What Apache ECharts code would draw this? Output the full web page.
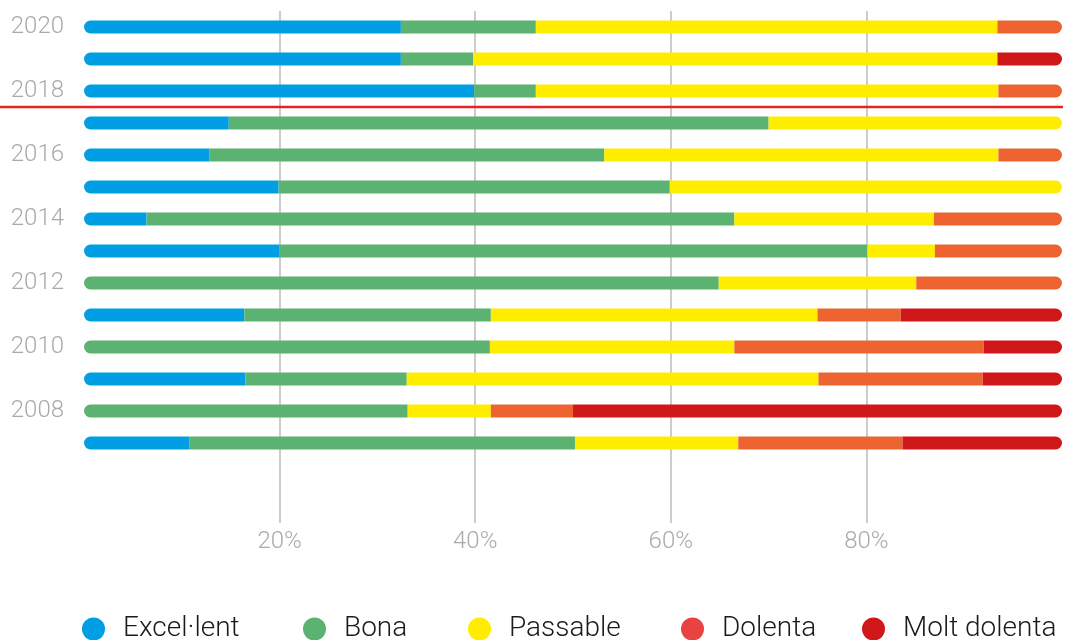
<!DOCTYPE html>
<html>
<head>
<meta charset="utf-8">
<script src="https://cdn.jsdelivr.net/npm/echarts@6/dist/echarts.min.js"></script>
<style>
  html, body { margin: 0; padding: 0; background: #fff; }
  #main { width: 1066px; height: 640px; }
</style>
</head>
<body>
<div id="main"></div>
<script>
var mychart = echarts.init(document.getElementById('main'));

// years from top to bottom, two empty rows at the bottom
var years = ['2020', '2019', '2018', '2017', '2016', '2015', '2014', '2013', '2012', '2011', '2010', '2009', '2008', '2007', '', ' '];
var names = ['Excel·lent', 'Bona', 'Passable', 'Dolenta', 'Molt dolenta'];
var barColors = ['#009fe3', '#5cb270', '#ffed00', '#ee6430', '#d0181a'];
var legendColors = ['#009fe3', '#5cb270', '#ffed00', '#e84343', '#d0181a'];
var ticks = [0, 20, 40, 60, 80, 100];

// percentages per year (2020 -> 2007)
var excellent   = [32.4, 32.4, 39.9, 14.8, 12.8, 19.9,  6.4, 20.0,  0.0, 16.4,  0.0, 16.5,  0.0, 10.8];
var bona        = [13.8,  7.4,  6.3, 55.2, 40.4, 40.0, 60.1, 60.1, 64.9, 25.2, 41.5, 16.5, 33.1, 39.4];
var passable    = [47.2, 53.6, 47.3, 30.0, 40.3, 40.1, 20.4,  6.9, 20.2, 33.4, 25.0, 42.1,  8.5, 16.7];
var dolenta     = [ 6.6,  0.0,  6.5,  0.0,  6.5,  0.0, 13.1, 13.0, 14.9,  8.5, 25.5, 16.8,  8.4, 16.8];
var moltDolenta = [ 0.0,  6.6,  0.0,  0.0,  0.0,  0.0,  0.0,  0.0,  0.0, 16.5,  8.0,  8.1, 50.0, 16.3];

var values = [excellent, bona, passable, dolenta, moltDolenta];
const r = 7;

// left edge of each legend item
var legendLeft = [82, 303, 468, 681, 862];

var series = [];
for (let s = 0; s < values.length; s++) {
    let data = [];
    for (let i = 0; i < values[s].length; i++) {
        // find first and last non-empty segment of this row
        let first = -1, last = -1;
        for (let k = 0; k < values.length; k++) {
            if (values[k][i] > 0) {
                if (first < 0) first = k;
                last = k;
            }
        }
        let rad = [0, 0, 0, 0];
        if (s === first) { rad[0] = r; rad[3] = r; }
        if (s === last) { rad[1] = r; rad[2] = r; }
        data.push({ value: values[s][i], itemStyle: { borderRadius: rad } });
    }
    series.push({
        name: names[s],
        type: 'bar',
        stack: 'total',
        barWidth: 13,
        itemStyle: { color: barColors[s] },
        emphasis: { disabled: true },
        data: data
    });
}

var legends = [];
for (let s = 0; s < names.length; s++) {
    legends.push({
        data: [{ name: names[s], itemStyle: { color: legendColors[s] } }],
        left: legendLeft[s],
        top: 615,
        padding: 0,
        icon: 'circle',
        itemWidth: 49,
        itemHeight: 23,
        selectedMode: false,
        textStyle: {
            fontSize: 28,
            fontWeight: 300,
            color: '#1a1a1a',
            fontFamily: 'Roboto',
            padding: [0, 0, 6, 0]
        }
    });
}

var option = {
    animation: false,
    textStyle: { fontFamily: 'Roboto' },
    grid: { left: 84, right: 4, top: 11, bottom: 117 },
    legend: legends,
    xAxis: {
        type: 'value',
        min: ticks[0],
        max: ticks[ticks.length - 1],
        interval: 20,
        axisLine: { show: false },
        axisTick: { show: false },
        splitLine: {
            show: true,
            showMinLine: false,
            showMaxLine: false,
            lineStyle: { color: '#cccccc', width: 2 }
        },
        axisLabel: {
            showMinLabel: false,
            showMaxLabel: false,
            margin: 7,
            fontSize: 24,
            fontWeight: 300,
            color: '#aaaaaa',
            formatter: '{value}%'
        }
    },
    yAxis: {
        type: 'category',
        inverse: true,
        data: years,
        axisLine: { show: false },
        axisTick: { show: false },
        splitLine: { show: false },
        axisLabel: {
            interval: 1,
            margin: 20,
            fontSize: 24,
            fontWeight: 300,
            color: '#aaaaaa'
        }
    },
    series: series
};

mychart.setOption(option);

// red separator between 2018 and 2017
var yA = mychart.convertToPixel({ yAxisIndex: 0 }, '2018');
var yB = mychart.convertToPixel({ yAxisIndex: 0 }, '2017');
var xEnd = mychart.convertToPixel({ xAxisIndex: 0 }, 100);
var yMid = (yA + yB) / 2;
mychart.setOption({
    graphic: [{
        type: 'line',
        shape: { x1: 0, y1: yMid, x2: xEnd + 1, y2: yMid },
        style: { stroke: '#e52421', lineWidth: 2.5 },
        z: 10
    }]
});
</script>
</body>
</html>
